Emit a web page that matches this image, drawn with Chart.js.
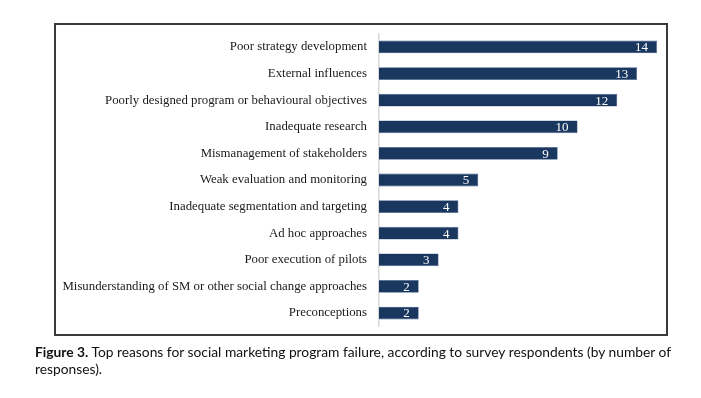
<!DOCTYPE html>
<html>
<head>
<meta charset="utf-8">
<script src="https://cdn.jsdelivr.net/npm/chart.js@4/dist/chart.umd.min.js"></script>
<style>
  body { margin: 0; background: #fff; width: 701px; height: 398px; position: relative; overflow: hidden; }
  #frame { position: absolute; left: 54px; top: 23px; width: 610px; height: 309px; border: 2px solid #3a3a3a; }
  #wrap { position: absolute; left: 56px; top: 14px; width: 609px; height: 332px; }
  #caption { position: absolute; left: 35px; top: 343px; width: 660px; font-family: Lato, "Open Sans", sans-serif; font-size: 13.8px; line-height: 17px; color: #111; }
  #caption b { font-weight: bold; }
</style>
</head>
<body>
<div id="frame"></div>
<div id="wrap"><canvas id="chart" width="609" height="332"></canvas></div>
<div id="caption"><b>Figure 3.</b> Top reasons for social marketing program failure, according to survey respondents (by number of responses).</div>
<script>
const reasons = [
  'Poor strategy development',
  'External influences',
  'Poorly designed program or behavioural objectives',
  'Inadequate research',
  'Mismanagement of stakeholders',
  'Weak evaluation and monitoring',
  'Inadequate segmentation and targeting',
  'Ad hoc approaches',
  'Poor execution of pilots',
  'Misunderstanding of SM or other social change approaches',
  'Preconceptions'
];
const responses = [14, 13, 12, 10, 9, 5, 4, 4, 3, 2, 2];

// white numbers drawn just inside the end of each bar
const barValues = {
  id: 'barValues',
  afterDatasetsDraw(chart) {
    const ctx = chart.ctx;
    const meta = chart.getDatasetMeta(0);
    ctx.save();
    ctx.fillStyle = '#ffffff';
    ctx.font = '13px "Liberation Serif", "Times New Roman", serif';
    ctx.textAlign = 'right';
    ctx.textBaseline = 'middle';
    meta.data.forEach((bar, i) => {
      ctx.fillText(String(responses[i]), bar.x - 9, bar.y + 1);
    });
    ctx.restore();
  }
};

new Chart(document.getElementById('chart'), {
  type: 'bar',
  data: {
    labels: reasons,
    datasets: [{
      data: responses,
      backgroundColor: '#1a3760',
      borderColor: '#4a6488',
      borderWidth: 0.6,
      barPercentage: 0.48,
      categoryPercentage: 1.0
    }]
  },
  options: {
    indexAxis: 'y',
    responsive: false,
    animation: false,
    layout: { padding: { top: 0, bottom: 0, right: 8, left: 0 } },
    plugins: { legend: { display: false }, tooltip: { enabled: false } },
    scales: {
      x: { display: false, min: 0, max: 14 },
      y: {
        afterFit(scale) { scale.width = 323; },
        grid: { display: false, drawTicks: false },
        border: { display: true, color: '#d9d9d9', width: 1.5 },
        ticks: {
          padding: 12,
          color: '#1a1a1a',
          font: { family: '"Liberation Serif", "Times New Roman", serif', size: 12.8 }
        }
      }
    }
  },
  plugins: [barValues]
});
</script>
</body>
</html>
